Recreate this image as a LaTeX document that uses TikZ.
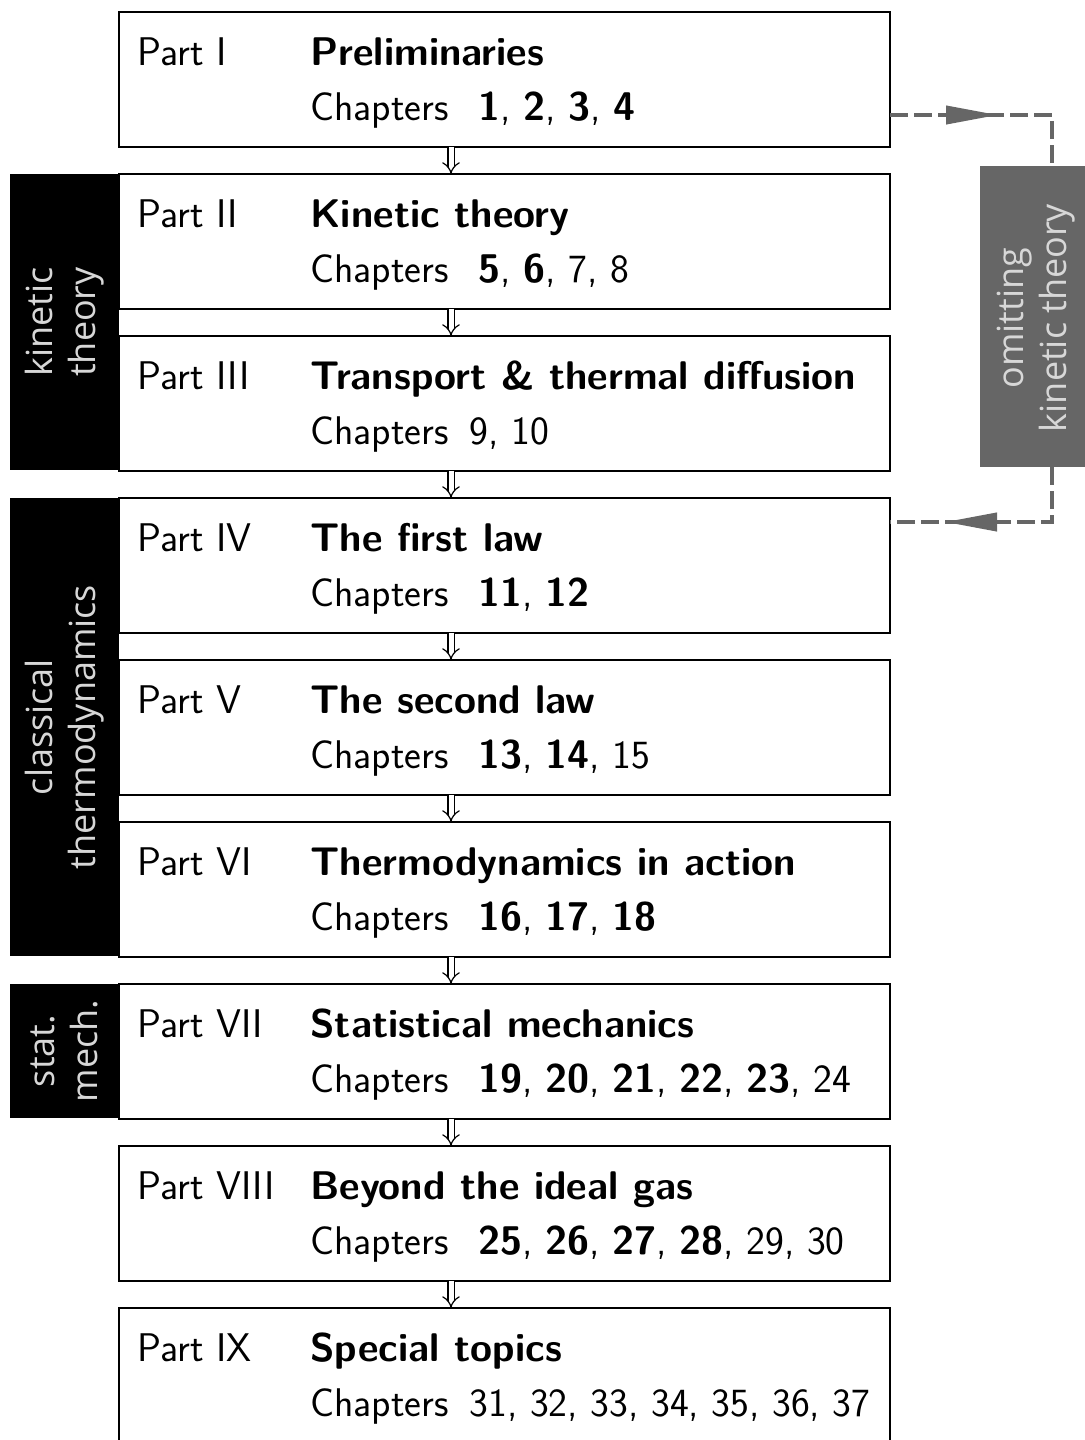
\documentclass[tikz,border=0pt]{standalone}
\usepackage{fontspec}
\newfontfamily\sidefont{Open Sans}
\usetikzlibrary{arrows.meta,calc,decorations.markings}
\definecolor{dgray}{RGB}{102,102,102}
\definecolor{ltext}{RGB}{215,215,215}
\newcommand\bnum[1]{\textbf{#1}}
\newcommand\chb{Chapters\hspace{0.75em}}
\newcommand\chr{Chapters\hspace{0.52em}}
\newcommand\mkpart[5]{%
  \node[partbox] (p#1) at (504.5,#2+67.5) {};
  \node[txt] (p#1l) at (137,#2+53) {#3};
  \node[ttl] (p#1t) at (310,#2+53) {#4};
  \node[txt] (p#1c) at (310,#2+108) {#5};
}
\begin{document}
\begin{tikzpicture}[x=0.5pt,y=-0.5pt,
  partbox/.style={draw, line width=1pt, fill=white, minimum width=385.5pt,
    minimum height=67.5pt, inner sep=0pt, outer sep=0pt},
  txt/.style={anchor=base west, inner sep=0pt, font=\sffamily\fontsize{20}{24}\selectfont},
  ttl/.style={txt, font=\sffamily\bfseries\fontsize{20}{24}\selectfont},
  side/.style={fill=black, inner sep=0pt, outer sep=0pt},
  sidetxt/.style={rotate=90, align=center, text=ltext, inner sep=0pt,
    font=\sidefont\fontsize{18}{21.5}\selectfont},
  dbl/.style={double, double distance=2.5pt, line width=0.6pt, -{Implies}},
  omit/.style={draw=dgray, line width=2pt, dash pattern=on 9pt off 3pt}
]
\useasboundingbox (0,0) rectangle (1085,1440);

% sidebars
\node[side, minimum width=54.5pt, minimum height=148pt] (s1) at (64.5,322) {};
\node[sidetxt] (s1t) at (s1.center) {kinetic\\theory};
\node[side, minimum width=54.5pt, minimum height=229pt] (s2) at (64.5,727) {};
\node[sidetxt] (s2t) at (s2.center) {classical\\thermodynamics};
\node[side, minimum width=54.5pt, minimum height=67pt] (s3) at (64.5,1051) {};
\node[sidetxt] (s3t) at (s3.center) {stat.\\mech.};

% parts
\mkpart{1}{12}{Part I}{Preliminaries}{\chb\bnum{1}, \bnum{2}, \bnum{3}, \bnum{4}}
\mkpart{2}{174}{Part II}{Kinetic theory}{\chb\bnum{5}, \bnum{6}, 7, 8}
\mkpart{3}{336}{Part III}{Transport \& thermal diffusion}{\chr 9, 10}
\mkpart{4}{498}{Part IV}{The first law}{\chb\bnum{11}, \bnum{12}}
\mkpart{5}{660}{Part V}{The second law}{\chb\bnum{13}, \bnum{14}, 15}
\mkpart{6}{822}{Part VI}{Thermodynamics in action}{\chb\bnum{16}, \bnum{17}, \bnum{18}}
\mkpart{7}{984}{Part VII}{Statistical mechanics}{\chb\bnum{19}, \bnum{20}, \bnum{21}, \bnum{22}, \bnum{23}, 24}
\mkpart{8}{1146}{Part VIII}{Beyond the ideal gas}{\chb\bnum{25}, \bnum{26}, \bnum{27}, \bnum{28}, 29, 30}
\mkpart{9}{1308}{Part IX}{Special topics}{\chr 31, 32, 33, 34, 35, 36, 37}

% double arrows
\coordinate (ax) at (451,0);
\foreach \a/\b in {1/2,2/3,3/4,4/5,5/6,6/7,7/8,8/9}
  \draw[dbl] (p\a.south -| ax) -- (p\b.north -| ax);

% omitting kinetic theory
\node[fill=dgray, inner sep=0pt, outer sep=0pt, minimum width=52.5pt, minimum height=150.5pt] (g) at (1032.5,316.5) {};
\node[sidetxt] (gt) at (1036,318) {omitting\\kinetic theory};
\coordinate (vx) at (1052,0);
\coordinate (o1) at ($(p1.south east)+(0,-32)$);
\coordinate (o4) at ($(p4.north east)+(0,24)$);
\draw[omit, postaction={decorate}, decoration={markings,
  mark=at position 54pt with {\arrow{Triangle[length=26pt,width=9pt]}}}]
  (o1) -| (vx |- g.north);
\draw[omit, postaction={decorate}, decoration={markings,
  mark=at position 81pt with {\arrow{Triangle[length=26pt,width=9pt]}}}]
  (vx |- g.south) |- (o4);
\end{tikzpicture}
\end{document}
